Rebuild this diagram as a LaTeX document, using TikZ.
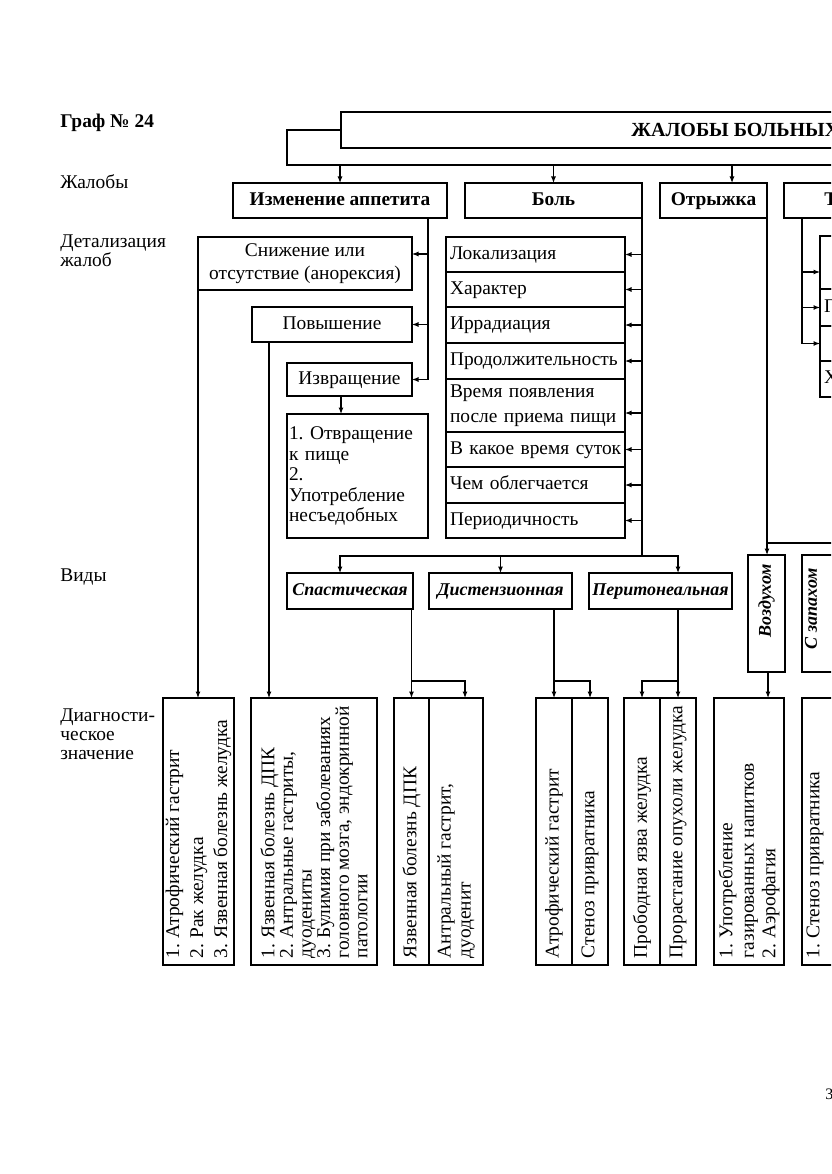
\documentclass[tikz,border=0pt]{standalone}
\usepackage{fontspec}
\setmainfont{Liberation Serif}
\usetikzlibrary{arrows.meta}
\newcommand\fs[2]{\fontsize{#1}{#2}\selectfont}
\frenchspacing
\begin{document}
\begin{tikzpicture}[x=1pt,y=-1pt,
 every node/.style={outer sep=0pt, font=\fs{19.4}{23}},
 lw/.style={line width=1.1pt},
 box/.style={draw, lw, inner sep=0pt, anchor=north west},
 one/.style={text height=13.6pt, text depth=4.4pt},
 lbox/.style={box, align=left, inner xsep=4pt},
 arr/.style={lw, -{Latex[length=6.5pt,width=5pt]}},
 dt/.style={rotate=90, anchor=west, align=left, inner sep=0pt, font=\fs{19.4}{20}},
 lbl/.style={anchor=west, align=left, font=\fs{19.4}{19}},
 hb/.style={font=\fs{19.4}{23}\bfseries},
 vb/.style={font=\fs{18}{22}\bfseries\itshape},
 vbox/.style={draw, lw, rotate=90, anchor=north east, minimum width=117pt, inner xsep=9pt, inner ysep=1pt, text width=99pt, align=right, vb},
]
\path[use as bounding box] (0,0) rectangle (831,1174);
\clip (0,0) rectangle (831,1174);
\fill[white] (0,0) rectangle (831,1174);

% left labels
\node[lbl, hb] (title) at (57,123) {Граф № 24};
\node[lbl] (l1) at (57,182) {Жалобы};
\node[lbl] (l2) at (57,250.5) {Детализация\\жалоб};
\node[lbl] (l3) at (57,577) {Виды};
\node[lbl] (l4) at (57,734) {Диагности-\\ческое\\значение};

% top box
\node[box, minimum width=600pt, minimum height=36pt] (top) at (341,112) {};
\node[anchor=west, font=\fs{20}{24}\bfseries] (toptext) at (628,130) {ЖАЛОБЫ БОЛЬНЫХ};

% complaints row
\node[box, hb, one, minimum width=214pt, minimum height=35pt] (app) at (233,183) {Изменение аппетита};
\node[box, hb, one, minimum width=177pt, minimum height=35pt] (bol) at (465,183) {Боль};
\node[box, hb, one, minimum width=107pt, minimum height=35pt] (otr) at (660,183) {Отрыжка};
\node[box, minimum width=200pt, minimum height=35pt] (tb) at (784,183) {};
\node[anchor=west, hb, one] (tbt) at (821,200.5) {Т};

\coordinate (busL) at (287,165);
\coordinate (busR) at (840,165);
\draw[lw] (top.west) -| (busL) -- (busR);
\draw[arr] (app.north |- busL) -- (app.north);
\draw[arr] (bol.north |- busL) -- (bol.north);
\coordinate (oa) at ([xshift=18.5pt]otr.north);
\draw[arr] (oa |- busL) -- (oa);

% appetite details
\node[box, align=center, minimum width=214pt, minimum height=53pt] (sniz) at (198,237) {Снижение или\\отсутствие (анорексия)};
\node[box, one, minimum width=160pt, minimum height=35pt] (pov) at (252,307) {Повышение};
\node[box, one, minimum width=125pt, minimum height=33pt] (izv) at (287,363) {Извращение};
\node[lbox, text width=137pt, inner xsep=2pt, minimum height=124pt, font=\fs{19.4}{20.5}] (otv) at (287,414) {1. Отвращение\\к пище\\2.\\Употребление\\несъедобных};

\coordinate (av) at ([xshift=-19pt]app.south east);
\draw[lw] (av) -- (av |- izv.east);
\draw[arr] (av |- 0,254) -- (sniz.east |- 0,254);
\draw[arr] (av |- pov.east) -- (pov.east);
\draw[arr] (av |- izv.east) -- (izv.east);
\coordinate (ia) at ([xshift=54pt]izv.south west);
\draw[arr] (ia) -- (ia |- otv.north);

% pain details
\newcommand\prow[4]{\node[lbox, one, text width=171pt, minimum height=#3pt] (#1) at (446,#2) {\mbox{#4}};}
\prow{p1}{237}{35}{Локализация}
\prow{p2}{272}{35}{Характер}
\prow{p3}{307}{36}{Иррадиация}
\prow{p4}{343}{36}{Продолжительность}
\node[lbox, text width=171pt, minimum height=53pt, font=\fs{19.4}{25}] (p5) at (446,379) {Время появления\\после приема пищи};
\prow{p6}{432}{35}{В какое время суток}
\prow{p7}{467}{36}{Чем облегчается}
\prow{p8}{503}{35}{Периодичность}

\coordinate (bolbus) at (bol.south east |- 0,556);
\draw[lw] (bol.south east) -- (bolbus);
\foreach \n in {p1,p2,p3,p4,p6,p7,p8} \draw[arr] (\n.east -| bol.east) -- (\n.east);
\draw[arr] (bol.east |- 0,413) -- (p5.east |- 0,413);

% pain kinds
\node[box, vb, one, minimum width=126pt, minimum height=36pt] (spas) at (287,573) {Спастическая};
\node[box, vb, one, minimum width=143pt, minimum height=36pt] (dist) at (429,573) {Дистензионная};
\node[box, vb, one, minimum width=143pt, minimum height=36pt] (perit) at (589,573) {Перитонеальная};
\coordinate (sa) at ([xshift=-10pt]spas.north);
\coordinate (pa2) at ([xshift=17.5pt]perit.north);
\draw[arr] (bolbus) -| (sa);
\draw[arr] (bolbus) -| (dist.north);
\draw[arr] (bolbus) -| (pa2);

% diagnostic boxes
\newcommand\dbox[3]{\node[box, minimum width=#3pt, minimum height=267pt] (#1) at (#2,698) {};}
\dbox{d1}{163}{71}
\dbox{d2}{251}{126}
\dbox{d3a}{394}{35}
\dbox{d3b}{429}{54}
\dbox{d4a}{536}{36}
\dbox{d4b}{572}{36}
\dbox{d5a}{624}{36}
\dbox{d5b}{660}{36}
\dbox{d6}{714}{70}
\dbox{d7}{802}{100}
\node[dt, font=\fs{19.4}{24}] (d1t) at ([yshift=7pt]d1.south) {1. Атрофический гастрит\\2. Рак желудка\\3. Язвенная болезнь желудка};
\node[dt, font=\fs{19.4}{18.6}] (d2t) at ([yshift=7pt]d2.south) {1. Язвенная болезнь ДПК\\2. Антральные гастриты,\\дуодениты\\3. Булимия при заболеваниях\\головного мозга, эндокринной\\патологии};
\node[dt] (d3at) at ([yshift=7pt]d3a.south) {Язвенная болезнь ДПК};
\node[dt] (d3bt) at ([yshift=7pt]d3b.south) {Антральный гастрит,\\дуоденит};
\node[dt] (d4at) at ([yshift=7pt]d4a.south) {Атрофический гастрит};
\node[dt] (d4bt) at ([yshift=7pt]d4b.south) {Стеноз привратника};
\node[dt] (d5at) at ([yshift=7pt]d5a.south) {Прободная язва желудка};
\node[dt] (d5bt) at ([yshift=7pt]d5b.south) {Прорастание опухоли желудка};
\node[dt, font=\fs{19.4}{21.5}] (d6t) at ([yshift=7pt]d6.south) {1. Употребление\\газированных напитков\\2. Аэрофагия};
\node[dt] (d7t) at ([xshift=13pt,yshift=7pt]d7.south west) {1. Стеноз привратника};

\draw[arr] (sniz.south west) -- (sniz.south west |- d1.north);
\coordinate (pa) at ([xshift=17pt]pov.south west);
\draw[arr] (pa) -- (pa |- d2.north);

\draw[arr] (spas.south east -| d3a.north) -- (d3a.north);
\coordinate (b1) at (d3a.north |- 0,681);
\coordinate (b1r) at ([xshift=9pt]d3b.north);
\draw[arr] (b1) -| (b1r);
\draw[arr] (dist.south -| d4a.north) -- (d4a.north);
\draw[arr] (d4a.north |- 0,681) -| (d4b.north);
\draw[arr] (perit.south -| d5b.north) -- (d5b.north);
\draw[arr] (d5b.north |- 0,681) -| (d5a.north);

% belching kinds
\coordinate (ob) at (otr.south east |- 0,543);
\draw[lw] (otr.south east) -- (ob) -- (ob -| 840,0);
\node[vbox, minimum height=37pt] (vozd) at (748,555) {Воздухом};
\draw[arr] (ob) -- (ob |- vozd.east);
\coordinate (va) at ([xshift=1.5pt]vozd.west);
\draw[arr] (va) -- (va |- d6.north);
\node[box, minimum width=100pt, minimum height=117pt] (zap) at (802,555) {};
\node[rotate=90, anchor=east, vb] (zapt) at (811,565) {С запахом};

% T column
\node[box, minimum width=100pt, minimum height=53pt] (t1) at (820,236) {};
\node[lbox, one, text width=92pt, minimum height=37pt] (t2) at (820,289) {Г};
\node[box, minimum width=100pt, minimum height=35pt] (t3) at (820,326) {};
\node[lbox, one, text width=92pt, minimum height=36pt] (t4) at (820,361) {Х};
\coordinate (tv) at ([xshift=18pt]tb.south west);
\draw[lw] (tv) -- (tv |- t3.west);
\draw[arr] (tv |- 0,272) -- (t1.west |- 0,272);
\draw[arr] (tv |- t2.west) -- (t2.west);
\draw[arr] (tv |- t3.west) -- (t3.west);

% page number
\node[anchor=west, font=\fs{16}{16}] (pg) at (822,1094) {3};
\end{tikzpicture}
\end{document}
